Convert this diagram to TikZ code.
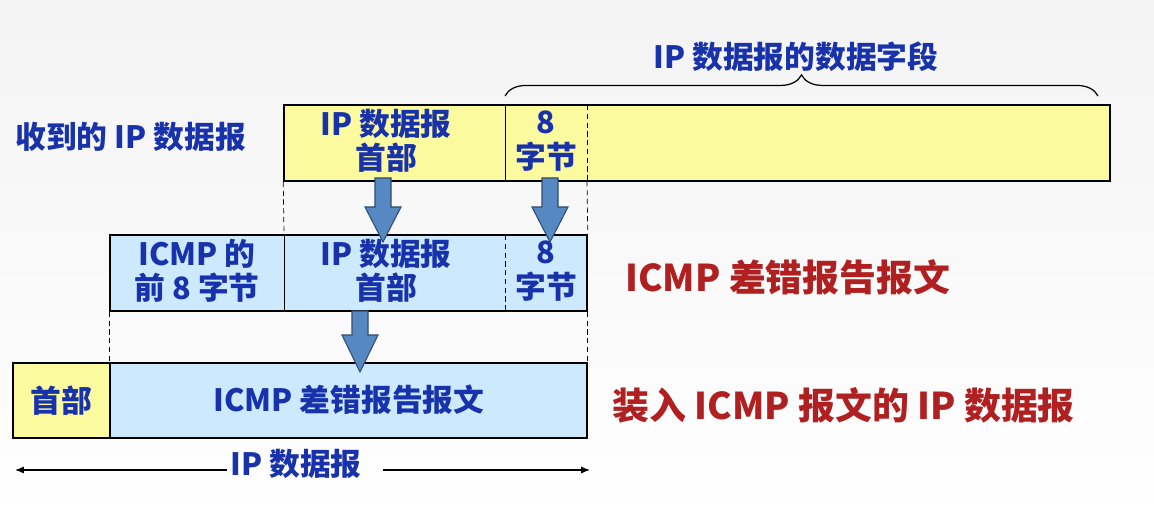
\documentclass[tikz,border=0pt]{standalone}
\usepackage{fontspec}
\setmainfont{Noto Sans CJK SC}
\usepackage{xcolor}
\usetikzlibrary{arrows.meta,calc,fit,decorations.pathreplacing}

\definecolor{txtblue}{RGB}{24,50,172}
\definecolor{txtred}{RGB}{176,32,32}
\definecolor{cellyellow}{RGB}{252,250,158}
\definecolor{cellblue}{RGB}{204,233,253}
\definecolor{arrowfill}{RGB}{86,136,194}
\definecolor{arrowline}{RGB}{48,76,112}

\newcommand{\cellfont}{\fontsize{17.5}{19.5}\selectfont\bfseries}
\newcommand{\redfont}{\fontsize{21}{24}\selectfont\bfseries}
% block arrow: x, top, head base, tip
\newcommand{\blkarrow}[4]{%
  \draw[blkarr] (#1-8,#2) -- (#1+8,#2) -- (#1+8,#3) -- (#1+18,#3) -- (#1,#4)
    -- (#1-18,#3) -- (#1-8,#3) -- cycle;}

\tikzset{
  yrow/.style={draw=black,fill=cellyellow,inner sep=0pt,line width=0.85pt},
  brow/.style={draw=black,fill=cellblue,inner sep=0pt,line width=0.85pt},
  celltxt/.style={text=txtblue,font=\cellfont,align=center,inner sep=2pt},
  redtxt/.style={text=txtred,font=\redfont,inner sep=0pt},
  blkarr/.style={fill=arrowfill,draw=arrowline,line width=0.6pt},
  guide/.style={densely dashed,line width=0.4pt},
  spanarr/.style={line width=0.7pt,-{Latex[length=5pt,width=4pt]}},
}

\begin{document}
\begin{tikzpicture}[x=0.02cm,y=-0.02cm]
  \useasboundingbox[top color=gray!9,bottom color=white,draw=none] (0,0) rectangle (1154,527);

  % received datagram
  \node[celltxt,anchor=west,inner sep=0pt] (recvlbl) at (15,137) {收到的 IP 数据报};
  \node[yrow,fit={(284,105) (1110,181)}] (recv) {};
  \draw[line width=0.5pt] (505,105) -- (505,181);
  \draw[guide] (587,105) -- (587,181);
  \node[celltxt] (recvhdr) at (386,141) {IP 数据报\\首部};
  \node[celltxt] (recv8) at (546,141) {8\\字节};
  \draw[line width=0.7pt,decorate,decoration={brace,amplitude=12pt}] (505,96) -- (1098,96);
  \node[celltxt] (datafield) at (796,57) {IP 数据报的数据字段};

  % ICMP error message
  \node[brow,fit={(110,235) (587,311)}] (icmp) {};
  \draw[line width=0.5pt] (284,235) -- (284,311);
  \draw[guide] (505,235) -- (505,311);
  \node[celltxt] (icmp8) at (197,271) {ICMP 的\\前 8 字节};
  \node[celltxt] (icmphdr) at (386,271) {IP 数据报\\首部};
  \node[celltxt] (icmpdata) at (546,271) {8\\字节};
  \node[redtxt,anchor=west] (icmplbl) at (625,277) {ICMP 差错报告报文};
  \draw[guide] (recv.south west) -- (284,235);
  \draw[guide] (587,181) -- (icmp.north east);

  % IP datagram carrying ICMP
  \node[yrow,fit={(13,363) (110,438)}] (outhdr) {};
  \node[brow,fit={(110,363) (587,438)}] (outdata) {};
  \node[celltxt] at (outhdr.center) {首部};
  \node[celltxt] at (349,400) {ICMP 差错报告报文};
  \node[redtxt,anchor=west] (outlbl) at (612,405) {装入 ICMP 报文的 IP 数据报};
  \draw[guide] (icmp.south west) -- (outdata.north west);
  \draw[guide] (icmp.south east) -- (outdata.north east);

  \blkarrow{383}{178}{207}{242}
  \blkarrow{550}{178}{207}{242}
  \blkarrow{360}{311}{335}{372}

  % length of IP datagram
  \node[celltxt] (iplen) at (296,464) {IP 数据报};
  \coordinate (lenL) at (15,470);
  \coordinate (lenR) at (590,470);
  \draw[spanarr] (iplen.west |- lenL) -- (lenL);
  \draw[spanarr] ($(iplen.east |- lenR)+(18,0)$) -- (lenR);
\end{tikzpicture}
\end{document}
